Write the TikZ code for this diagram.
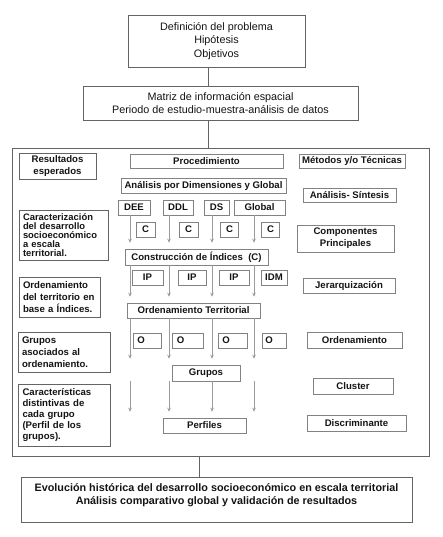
\documentclass[tikz,border=0pt]{standalone}
\usepackage{fontspec}
\setmainfont{Liberation Sans}
\usepackage{xcolor}
\definecolor{gray-900}{RGB}{20,20,20}
\definecolor{gray-600}{RGB}{100,100,100}
\definecolor{gray-500}{RGB}{130,130,130}
\definecolor{gray-400}{RGB}{155,155,155}
\usepackage{tikz}
\usetikzlibrary{arrows.meta}

\begin{document}
\begin{tikzpicture}[
    x=1pt, y=-1pt,
    every node/.style={inner sep=0pt, text=gray-900},
    headbox/.style={draw=gray-600, line width=0.6pt, fill=white, align=center, font=\fontsize{10.8}{13.3}\selectfont},
    stepbox/.style={draw=gray-500, line width=0.6pt, fill=white, align=center, minimum height=15pt, font=\fontsize{9.6}{11.8}\selectfont\bfseries},
    resbox/.style={draw=gray-600, line width=0.7pt, fill=white, align=left, inner xsep=4pt, font=\fontsize{9.6}{11.8}\selectfont\bfseries},
    flow/.style={draw=gray-400, line width=0.6pt, -{Stealth[length=4pt,width=3.6pt]}, shorten >=6pt},
    link/.style={draw=gray-600, line width=0.6pt}
]

\useasboundingbox (0,0) rectangle (443,537);

% Problem statement
\node[headbox, minimum width=177pt, minimum height=52pt] (problema) at (216.5,41) {Definición del problema\\Hipótesis\\Objetivos};

% Spatial data matrix
\node[headbox, minimum width=275pt, minimum height=34pt] (matriz) at (220.5,103) {Matriz de información espacial\\Periodo de estudio-muestra-análisis de datos};

% Main frame
\node[draw=gray-600, line width=0.8pt, minimum width=417pt, minimum height=308pt] (marco) at (220.5,302) {};

% Final results
\node[headbox, minimum width=391pt, minimum height=45pt] (evolucion) at (216.5,499.5) {};
\node[font=\fontsize{10.8}{13.3}\selectfont\bfseries, align=center] (evoltexto) at (216.5,495.5) {Evolución histórica del desarrollo socioeconómico en escala territorial\\Análisis comparativo global y validación de resultados};

% Vertical links between blocks
\coordinate (eje) at (208,0);
\coordinate (ejeb) at (199,0);
\draw[link] (problema.south -| eje) -- (matriz.north -| eje);
\draw[link] (matriz.south -| eje) -- (marco.north -| eje);
\draw[link] (marco.south -| ejeb) -- (evolucion.north -| ejeb);

% Column headers
\node[resbox, text width=69pt, align=center, minimum height=26pt] (resultados) at (57.5,166) {Resultados\\esperados};
\node[stepbox, minimum width=153pt, minimum height=14pt] (procedimiento) at (206.5,161) {Procedimiento};
\node[stepbox, minimum width=106pt, minimum height=14pt] (metodos) at (352,161) {Métodos y/o Técnicas};

% Expected results
\node[resbox, text width=81pt, minimum height=50pt, font=\fontsize{9.4}{8.8}\selectfont\bfseries] (caracterizacion) at (63.5,235) {Caracterización\\del desarrollo\\socioeconómico\\a escala\\territorial.};
\node[resbox, text width=73pt, minimum height=40pt, font=\fontsize{9.6}{12}\selectfont\bfseries] (ordindices) at (59.5,297) {Ordenamiento\\del territorio en\\base a Índices.};
\node[resbox, text width=84pt, minimum height=40pt, font=\fontsize{9.6}{12}\selectfont\bfseries] (asociados) at (64,352) {Grupos\\asociados al\\ordenamiento.};
\node[resbox, text width=84pt, minimum height=62pt, font=\fontsize{9.6}{11}\selectfont\bfseries] (caracteristicas) at (64.5,415) {Características\\distintivas de\\cada grupo\\(Perfil de los\\grupos).};

% Procedure
\node[stepbox, minimum width=165pt] (analisis) at (203.5,186) {Análisis por Dimensiones y Global};
\node[stepbox, minimum width=32pt] (dee) at (134,207.5) {DEE};
\node[stepbox, minimum width=30pt] (ddl) at (178,207.5) {DDL};
\node[stepbox, minimum width=25pt] (ds) at (216.5,207.5) {DS};
\node[stepbox, minimum width=51pt] (global) at (259.5,207.5) {Global};
\node[stepbox, minimum width=19pt] (c1) at (145.5,229.5) {C};
\node[stepbox, minimum width=19pt] (c2) at (188.5,229.5) {C};
\node[stepbox, minimum width=18pt] (c3) at (229.5,229.5) {C};
\node[stepbox, minimum width=18pt] (c4) at (270.5,229.5) {C};
\node[stepbox, minimum width=143pt, minimum height=16pt] (construccion) at (196.5,257) {Construcción de Índices~~(C)};
\node[stepbox, minimum width=31pt] (ip1) at (147.5,277.5) {IP};
\node[stepbox, minimum width=28pt] (ip2) at (192,277.5) {IP};
\node[stepbox, minimum width=30pt] (ip3) at (234,277.5) {IP};
\node[stepbox, minimum width=26pt] (idm) at (274,277.5) {IDM};
\node[stepbox, minimum width=133pt] (ordterr) at (193.5,310.5) {Ordenamiento Territorial};
\node[stepbox, minimum width=28pt] (o1) at (147,340.5) {\hspace*{-12pt}O};
\node[stepbox, minimum width=31pt] (o2) at (187.5,340.5) {\hspace*{-14pt}O};
\node[stepbox, minimum width=29pt] (o3) at (232.5,340.5) {\hspace*{-13pt}O};
\node[stepbox, minimum width=24pt] (o4) at (274,340.5) {\hspace*{-10pt}O};
\node[stepbox, minimum width=68pt, minimum height=16pt] (grupos) at (206,373) {Grupos};
\node[stepbox, minimum width=83pt] (perfiles) at (204.5,425.5) {Perfiles};

% Methods
\node[stepbox, minimum width=93pt, minimum height=14pt] (sintesis) at (349.5,195) {Análisis- Síntesis};
\node[stepbox, minimum width=97pt, minimum height=27pt] (componentes) at (345.5,238.5) {Componentes\\Principales};
\node[stepbox, minimum width=92pt] (jerarquizacion) at (349,285.5) {Jerarquización};
\node[stepbox, minimum width=95pt, minimum height=16pt] (ordenamiento) at (354.5,340) {Ordenamiento};
\node[stepbox, minimum width=80pt, minimum height=16pt] (cluster) at (353,386) {Cluster};
\node[stepbox, minimum width=99pt, minimum height=16pt] (discriminante) at (356.5,423) {Discriminante};

% Flow columns
\coordinate (col1) at (130,0);
\coordinate (col2) at (169,0);
\coordinate (col3) at (212,0);
\coordinate (col4) at (254,0);

% Dimensions to index construction
\draw[flow] (dee.south -| col1) -- (construccion.north -| col1);
\draw[flow] (ddl.south -| col2) -- (construccion.north -| col2);
\draw[flow] (ds.south -| col3) -- (construccion.north -| col3);
\draw[flow] (global.south -| col4) -- (construccion.north -| col4);

% Index construction to territorial ordering
\draw[flow] (construccion.south -| col1) -- (ordterr.north -| col1);
\draw[flow] (construccion.south -| col2) -- (ordterr.north -| col2);
\draw[flow] (construccion.south -| col3) -- (ordterr.north -| col3);
\draw[flow] (construccion.south -| col4) -- (ordterr.north -| col4);

% Territorial ordering to groups
\draw[flow] (ordterr.south -| col1) -- (grupos.north -| col1);
\draw[flow] (ordterr.south -| col2) -- (grupos.north -| col2);
\draw[flow] (ordterr.south -| col3) -- (grupos.north -| col3);
\draw[flow] (ordterr.south -| col4) -- (grupos.north -| col4);

% Groups to profiles
\draw[flow] (grupos.south -| col1) -- (perfiles.north -| col1);
\draw[flow] (grupos.south -| col2) -- (perfiles.north -| col2);
\draw[flow] (grupos.south -| col3) -- (perfiles.north -| col3);
\draw[flow] (grupos.south -| col4) -- (perfiles.north -| col4);

\end{tikzpicture}
\end{document}
